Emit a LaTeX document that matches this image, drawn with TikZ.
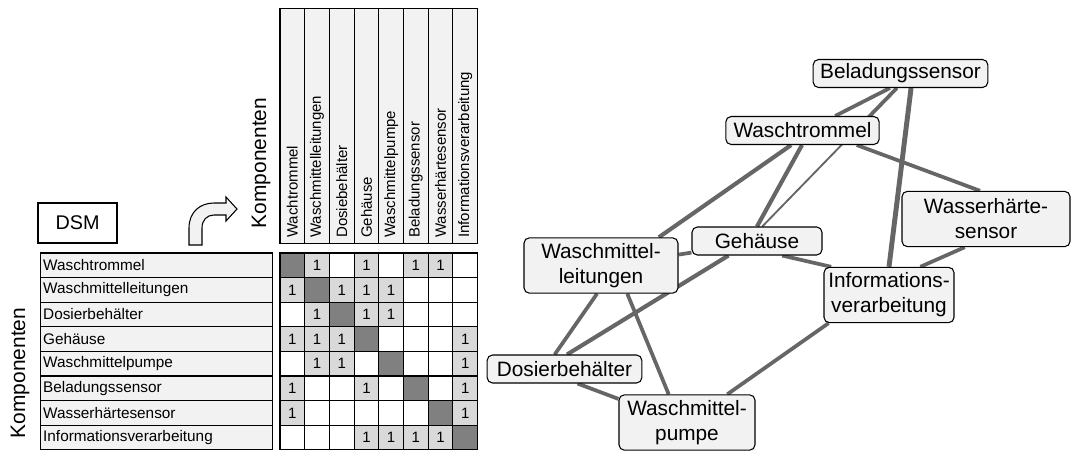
\documentclass[tikz,border=0pt]{standalone}
\usepackage{fontspec}
\setmainfont{Liberation Sans}
\usetikzlibrary{backgrounds}

\definecolor{boxgray}{HTML}{F2F2F2}
\definecolor{cellfill0}{HTML}{FFFFFF}
\definecolor{cellfill1}{HTML}{D9D9D9}
\definecolor{cellfill2}{HTML}{808080}
\definecolor{linkgray}{HTML}{666666}

\tikzset{
    rowlabel/.style={draw, line width=0.8pt, fill=boxgray, anchor=west, inner xsep=2pt, inner ysep=0pt,
        text width=170pt, align=left, minimum height=18.45pt, font=\fontsize{11.5}{13}\selectfont},
    colhead/.style={draw, line width=0.8pt, fill=boxgray, rotate=90, inner xsep=4pt, inner ysep=0pt,
        text width=168pt, align=left, minimum height=18.5pt, font=\fontsize{11.25}{13}\selectfont},
    cell/.style={draw, line width=0.8pt, fill=cellfill#1, minimum width=18.5pt, minimum height=18.45pt,
        inner sep=0pt, font=\fontsize{11.25}{13}\selectfont},
    comp/.style={draw, line width=0.8pt, fill=boxgray, rounded corners=4pt, inner sep=2pt, align=center,
        font=\fontsize{15.6}{18.75}\selectfont},
    onerow/.style={minimum height=21pt},
    tworow/.style={minimum height=41.5pt},
    link/.style={draw=linkgray, line width=2.8pt},
    biglabel/.style={rotate=90, font=\fontsize{15.7}{18}\selectfont},
}

\begin{document}
\begin{tikzpicture}[x=0.75pt, y=-0.75pt]
    \useasboundingbox (0, 0) rectangle (1072, 451);

    % DSM side
    \node[draw, line width=0.8pt, fill=white, minimum width=59.25pt, minimum height=30pt,
        font=\fontsize{14.85}{17}\selectfont] (dsm) at (77.5, 223) {DSM};
    \draw[line width=0.8pt, fill=boxgray] (189, 245) -- (189, 228) .. controls (189, 212) and (200, 203) .. (214, 203)
        -- (226, 203) -- (226, 197) -- (237, 209) -- (226, 221) -- (226, 215) -- (214, 215)
        .. controls (207, 215) and (202, 220) .. (202, 228) -- (202, 245) -- cycle;
    \node[biglabel] (compTop) at (261, 163) {Komponenten};
    \node[biglabel] (compLeft) at (20, 373) {Komponenten};

    \foreach \name [count=\r] in {Waschtrommel, Waschmittelleitungen, Dosierbehälter, Gehäuse,
        Waschmittelpumpe, Beladungssensor, Wasserhärtesensor, Informationsverarbeitung}
        \node[rowlabel] (row\r) at (40, {253+(\r-0.5)*24.6}) {\name};
    \foreach \name [count=\c] in {Wachtrommel, Waschmittelleitungen, Dosiebehälter, Gehäuse,
        Waschmittelpumpe, Beladungssensor, Wasserhärtesensor, Informationsverarbeitung}
        \node[colhead] (col\c) at ({280+(\c-0.5)*24.7}, 125.75) {\name};

    % 2 = diagonal, 1 = link
    \foreach \row [count=\r] in {{2,1,0,1,0,1,1,0}, {1,2,1,1,1,0,0,0}, {0,1,2,1,1,0,0,0}, {1,1,1,2,0,0,0,1},
        {0,1,1,0,2,0,0,1}, {1,0,0,1,0,2,0,1}, {1,0,0,0,0,0,2,1}, {0,0,0,1,1,1,1,2}}
        \foreach \v [count=\c] in \row
            \node[cell=\v] (m\r-\c) at ({280+(\c-0.5)*24.7}, {253+(\r-0.5)*24.6}) {\ifnum\v=1 1\fi};

    % graph side
    \node[comp, onerow, minimum width=131pt] (belad) at (900.5, 73.5) {Beladungssensor};
    \node[comp, onerow, minimum width=115pt] (wascht) at (802.5, 130.5) {Waschtrommel};
    \node[comp, tworow, minimum width=126pt] (wasser) at (986, 219) {Wasserhärte-\\sensor};
    \node[comp, onerow, minimum width=97.5pt] (gehaeuse) at (757, 241) {Gehäuse};
    \node[comp, tworow, minimum width=115.5pt] (leitung) at (601, 265.5) {Waschmittel-\\leitungen};
    \node[comp, tworow, minimum width=97.5pt] (info) at (889, 295) {Informations-\\verarbeitung};
    \node[comp, onerow, minimum width=116pt] (dosier) at (564.5, 369) {Dosierbehälter};
    \node[comp, tworow, minimum width=102pt] (pumpe) at (687, 422.5) {Waschmittel-\\pumpe};

    \begin{pgfonlayer}{background}
        \draw[link] (belad.234) -- (wascht.24);
        \draw[link, line width=1.4pt] (belad.256) -- coordinate[pos=0.3] (bgmid) (gehaeuse.70);
        \draw[link] (belad.256) -- (bgmid);
        \draw[link, line width=3.7pt] (belad.306) -- (info.north);
        \draw[link] (wascht.345) -- (wasser.102);
        \draw[link, line width=3.1pt] (wascht.232) -- (leitung.26);
        \draw[link, line width=3.1pt] (wascht.268) -- (gehaeuse.north);
        \draw[link] (leitung.8) -- (gehaeuse.190);
        \draw[link] (gehaeuse.330) -- (info.154);
        \draw[link, line width=3.1pt] (gehaeuse.207) -- (dosier.80);
        \draw[link] (leitung.262) -- (dosier.124);
        \draw[link] (leitung.313) -- (pumpe.123);
        \draw[link] (dosier.312) -- (pumpe.161);
        \draw[link] (info.205) -- (pumpe.35);
        \draw[link] (wasser.233) -- (info.42);
    \end{pgfonlayer}
\end{tikzpicture}
\end{document}
